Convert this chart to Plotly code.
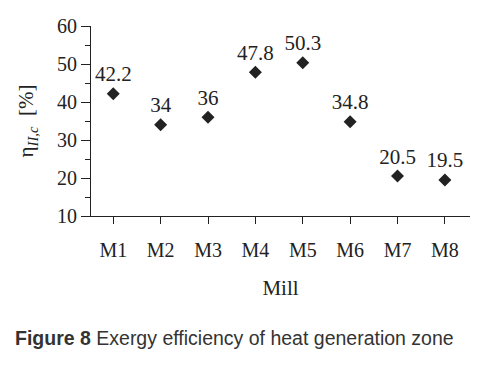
import plotly.graph_objects as go

mills = ["M1", "M2", "M3", "M4", "M5", "M6", "M7", "M8"]
efficiency = [42.2, 34, 36, 47.8, 50.3, 34.8, 20.5, 19.5]
labels = ["42.2", "34", "36", "47.8", "50.3", "34.8", "20.5", "19.5"]
y_ticks = [10, 20, 30, 40, 50, 60]

serif = "Liberation Serif, Times New Roman, serif"

fig = go.Figure()
fig.add_trace(go.Scatter(
    x=list(range(len(mills))), y=efficiency, mode="markers+text",
    text=labels, textposition="top center",
    textfont=dict(family=serif, size=21, color="#222"),
    marker=dict(symbol="diamond", size=10, color="#222"),
    cliponaxis=False, showlegend=False,
))

fig.update_layout(
    width=472, height=358,
    margin=dict(l=83, r=10, t=18, b=150),
    paper_bgcolor="white", plot_bgcolor="white",
    font=dict(family=serif, size=20, color="#222"),
    xaxis=dict(
        range=[-0.47, 7.53], tickmode="array",
        tickvals=list(range(len(mills))), ticktext=mills,
        tickfont=dict(family=serif, size=20, color="#222"),
        ticklabelstandoff=9,
        showline=True, linecolor="#222", linewidth=1,
        ticks="outside", ticklen=7, tickcolor="#222",
        showgrid=False, zeroline=False, automargin=False,
        title=dict(text="Mill", font=dict(family=serif, size=21), standoff=20),
    ),
    yaxis=dict(
        range=[10, 60], tickvals=y_ticks,
        tickfont=dict(family=serif, size=20, color="#222"),
        showline=True, linecolor="#222", linewidth=1,
        ticks="outside", ticklen=9, tickcolor="#222",
        minor=dict(dtick=5, ticks="outside", ticklen=5, tickcolor="#222"),
        showgrid=False, zeroline=False, automargin=False,
        title=dict(text="η<sub><i>II,c</i></sub>  [%]", font=dict(family=serif, size=21), standoff=17),
    ),
)

fig.add_annotation(
    text="<b>Figure 8</b> Exergy efficiency of heat generation zone",
    xref="paper", yref="paper", x=-83/379, y=-122/190,
    xanchor="left", yanchor="middle", showarrow=False,
    xshift=5,
    font=dict(family="Liberation Sans, Arial, sans-serif", size=19.5, color="#333"),
)

fig.write_html("out.html")
